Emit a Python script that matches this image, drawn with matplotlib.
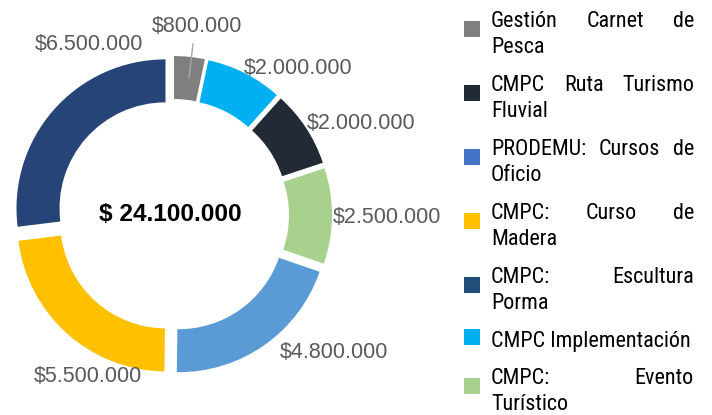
import matplotlib
matplotlib.use("Agg")
import matplotlib.pyplot as plt
from matplotlib.patches import Rectangle

# ---------------- data ----------------
slice_names = ["Gestión Carnet de Pesca", "CMPC Implementación", "CMPC Ruta Turismo Fluvial",
               "CMPC: Evento Turístico", "PRODEMU: Cursos de Oficio", "CMPC: Curso de Madera",
               "CMPC: Escultura Porma"]
slice_values = [800000, 2000000, 2000000, 2500000, 4800000, 5500000, 6500000]
slice_colors = ["#7F7F7F", "#00B0F0", "#222A35", "#A9D18E", "#5B9BD5", "#FFC000", "#264478"]

legend_lines = [["Gestión Carnet de", "Pesca"],
                ["CMPC Ruta Turismo", "Fluvial"],
                ["PRODEMU: Cursos de", "Oficio"],
                ["CMPC: Curso de", "Madera"],
                ["CMPC: Escultura", "Porma"],
                ["CMPC Implementación"],
                ["CMPC: Evento", "Turístico"]]
legend_colors = ["#7F7F7F", "#222A35", "#4472C4", "#FFC000", "#1F4E79", "#00B0F0", "#A9D18E"]

def money(v):
    return "$" + f"{v:,}".replace(",", ".")

# ---------------- layout ----------------
W, H = 712, 415
S = 149.0          # pixels per data unit (outer radius)
CX, CY = 173, 215  # donut centre in image pixels
# label offsets from centre in pixels (x right, y up)
label_offsets = [(24, 189), (125, 147), (188, 92), (214, -2), (161, -137), (-85, -161), (-84, 171)]

fig = plt.figure(figsize=(W / 100, H / 100), dpi=100)
ax = fig.add_axes([0, 0, 1, 1])
ax.pie(slice_values, colors=slice_colors, startangle=90, counterclock=False, radius=1.0,
       explode=[10 / S] * len(slice_values),
       wedgeprops=dict(width=43 / S, edgecolor="none"))
ax.set_xlim(-CX / S, (W - CX) / S)
ax.set_ylim(-(H - CY) / S, CY / S)
ax.axis("off")

for v, (dx, dy) in zip(slice_values, label_offsets):
    ax.text(dx / S, dy / S, money(v), ha="center", va="center", fontsize=15.5,
            color="#595959", family="Liberation Sans")

# leader line for the small slice
ax.plot([20 / S, 16 / S], [171 / S, 137 / S], color="#A6A6A6", lw=1)

total = sum(slice_values)
ax.text(-3 / S, 0.005, "$ " + f"{total:,}".replace(",", "."), ha="center", va="center",
        fontsize=17.6, fontweight="bold", color="black", family="Liberation Sans")

# ---------------- justified legend ----------------
renderer = fig.canvas.get_renderer()
X0, X1 = 491, 694
LINE = 26.3
GAP = 11.3
Y0 = 27.0   # baseline of first line
FS = 15.9

def fx(x):
    return x / W

def fy(y):
    return 1 - y / H

line_idx = 0
for ei, (lines, col) in enumerate(zip(legend_lines, legend_colors)):
    first_y = Y0 + line_idx * LINE + ei * GAP
    my = first_y + (2 if len(lines) > 1 else -10)
    fig.add_artist(Rectangle((fx(464), fy(my + 8)), 16 / W, 16 / H, transform=fig.transFigure,
                             facecolor=col, edgecolor="none"))
    for li, line in enumerate(lines):
        y = first_y + li * LINE
        words = line.split(" ")
        last = li == len(lines) - 1
        if last or len(words) == 1:
            fig.text(fx(X0), fy(y), line, ha="left", va="baseline", fontsize=FS,
                     family="Roboto Condensed", color="black")
        else:
            arts = []
            for w in words:
                t = fig.text(fx(X0), fy(y), w, ha="left", va="baseline", fontsize=FS,
                             family="Roboto Condensed", color="black")
                arts.append(t)
            widths = [a.get_window_extent(renderer).width for a in arts]
            gap = (X1 - X0 - sum(widths)) / (len(words) - 1)
            x = X0
            for a, wdt in zip(arts, widths):
                a.set_x(fx(x))
                x += wdt + gap
        line_idx += 1

fig.savefig("out.png", dpi=100)
